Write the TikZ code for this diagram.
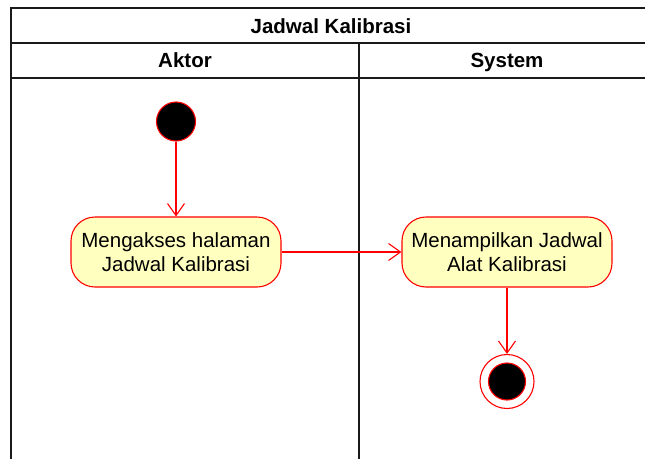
\documentclass[tikz,border=0pt]{standalone}
\usepackage{fontspec}
\setmainfont{Liberation Sans}
\usetikzlibrary{arrows.meta}
\definecolor{flowred}{HTML}{FF0000}
\definecolor{actfill}{HTML}{FFFFC0}
\definecolor{laneline}{HTML}{1A1A1A}
\begin{document}
\begin{tikzpicture}[x=1pt,y=-1pt,
  lane/.style={draw=laneline,line width=1.8pt},
  lanetitle/.style={font=\fontsize{20.5}{24}\selectfont\bfseries,anchor=base,inner sep=0pt},
  activity/.style={draw=flowred,fill=actfill,line width=1.1pt,rounded corners=24pt,
    minimum width=210pt,minimum height=70pt,align=center,inner sep=0pt,
    font=\fontsize{20.5}{24}\selectfont},
  startdot/.style={circle,draw=flowred,fill=black,line width=1.1pt,minimum size=39pt,inner sep=0pt},
  endring/.style={circle,draw=flowred,fill=white,line width=1.1pt,minimum size=54pt,inner sep=0pt},
  enddot/.style={circle,draw=flowred,fill=black,line width=1.1pt,minimum size=37pt,inner sep=0pt},
  flow/.style={draw=flowred,line width=1.1pt,-{Straight Barb[length=12pt,width=17pt,line width=1.1pt]}}
]
\useasboundingbox (0,0) rectangle (645,458);
\fill[white] (0,0) rectangle (645,458);

% pool and lanes
\draw[lane] (11,460) -- (11,7.7) -- (660,7.7);
\draw[lane] (11,42.7) -- (660,42.7);
\draw[lane] (11,77.7) -- (660,77.7);
\draw[lane] (359.3,42.7) -- (359.3,460);
\node[lanetitle] (pooltitle) at (331,33) {Jadwal Kalibrasi};
\node[lanetitle] (aktorhead) at (185,67.8) {Aktor};
\node[lanetitle] (systemhead) at (507,67.8) {System};

% activity nodes
\node[startdot] (start) at (176,121.5) {};
\node[activity] (akses) at (176,252) {Mengakses halaman\\Jadwal Kalibrasi};
\node[activity] (tampil) at (507,252) {Menampilkan Jadwal\\Alat Kalibrasi};
\node[endring] (endo) at (507,381.5) {};
\node[enddot] (endi) at (507,381.5) {};

% control flow
\draw[flow] (start) -- (akses);
\draw[flow] (akses) -- (tampil);
\draw[flow] (tampil) -- (endo);
\end{tikzpicture}
\end{document}
